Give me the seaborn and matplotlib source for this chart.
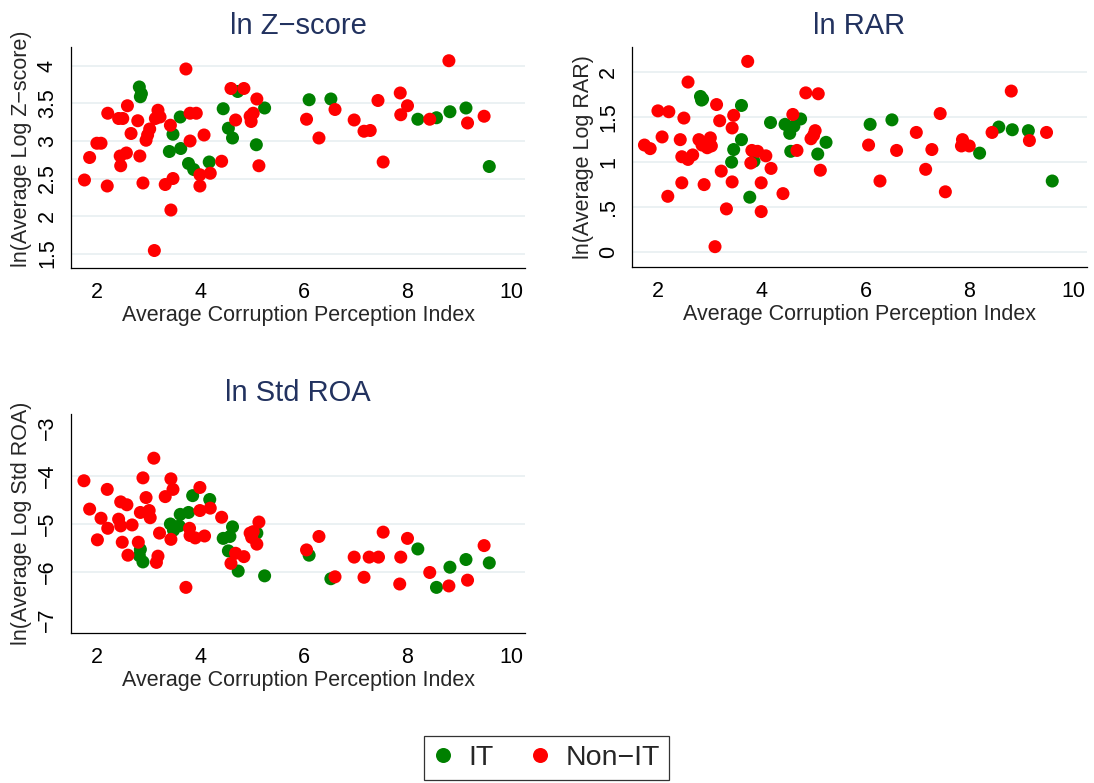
import numpy as np
import pandas as pd
import matplotlib
matplotlib.use("Agg")
import matplotlib.pyplot as plt
from matplotlib.lines import Line2D
import seaborn as sns

# ---------------- data ----------------
groups = ["IT", "Non\u2212IT"]
colors = {"IT": "#008000", "Non\u2212IT": "#ff0000"}

# Panel 1: ln Z-score
z_it_x = [2.82, 2.86, 2.84, 3.61, 3.47, 3.40, 3.62, 3.77, 3.87, 4.17, 4.44, 4.54,
          4.62, 4.72, 5.24, 5.08, 6.10, 6.52, 8.20, 8.56, 8.82, 9.13, 9.58]
z_it_y = [3.72, 3.63, 3.59, 3.32, 3.09, 2.86, 2.90, 2.70, 2.62, 2.72, 3.43, 3.17,
          3.04, 3.66, 3.44, 2.95, 3.55, 3.56, 3.29, 3.31, 3.39, 3.44, 2.66]
z_non_x = [3.72, 1.76, 1.86, 2.00, 2.08, 2.21, 2.20, 2.59, 2.42, 2.50, 2.79, 2.66,
           2.45, 2.57, 2.46, 2.83, 2.89, 3.02, 2.98, 2.95, 3.18, 3.13, 3.22, 3.42,
           3.32, 3.47, 3.43, 3.11, 3.80, 3.92, 3.80, 4.07, 3.99, 4.19, 3.99, 4.41,
           4.59, 4.84, 5.09, 4.68, 4.96, 5.02, 4.98, 5.13,
           6.05, 6.29, 6.60, 6.97, 7.16, 7.28, 7.43, 7.53, 7.86, 8.00, 7.87, 8.43,
           8.80, 9.16, 9.48]
z_non_y = [3.96, 2.48, 2.78, 2.97, 2.97, 3.37, 2.40, 3.47, 3.30, 3.30, 3.27, 3.10,
           2.80, 2.84, 2.67, 2.80, 2.44, 3.16, 3.08, 3.01, 3.41, 3.30, 3.32, 3.21,
           2.42, 2.50, 2.08, 1.54, 3.37, 3.37, 3.00, 3.08, 2.55, 2.57, 2.40, 2.73,
           3.70, 3.70, 3.56, 3.28, 3.33, 3.37, 3.26, 2.67,
           3.29, 3.04, 3.42, 3.28, 3.13, 3.14, 3.54, 2.72, 3.64, 3.47, 3.35, 3.29,
           4.07, 3.24, 3.33]

# Panel 2: ln RAR
r_it_x = [2.82, 2.86, 2.84, 3.61, 3.61, 3.46, 3.42, 3.85, 3.77, 4.17, 4.45, 4.54,
          4.62, 4.75, 4.54, 4.56, 5.24, 5.08, 6.09, 6.51, 8.20, 8.57, 8.83, 9.14, 9.60]
r_it_y = [1.73, 1.70, 1.69, 1.63, 1.25, 1.14, 1.00, 1.01, 0.61, 1.44, 1.42, 1.38,
          1.40, 1.48, 1.32, 1.12, 1.22, 1.09, 1.42, 1.47, 1.10, 1.39, 1.36, 1.35, 0.79]
r_non_x = [3.73, 2.58, 2.00, 2.21, 2.50, 3.13, 3.19, 3.46, 3.43, 2.08, 1.74, 1.85,
           2.43, 2.79, 2.85, 3.01, 2.95, 3.03, 2.46, 2.58, 2.67, 3.22, 3.43, 2.46,
           2.89, 2.19, 3.32, 3.10, 3.81, 3.92, 3.79, 4.08, 4.18, 3.99, 3.99, 4.41,
           4.60, 4.68, 4.85, 5.09, 5.03, 5.00, 4.95, 5.13,
           6.06, 6.28, 6.60, 6.98, 7.16, 7.28, 7.44, 7.54, 7.87, 7.85, 8.00, 8.44,
           8.81, 9.16, 9.49]
r_non_y = [2.12, 1.89, 1.57, 1.56, 1.49, 1.64, 1.46, 1.52, 1.38, 1.28, 1.19, 1.15,
           1.25, 1.25, 1.19, 1.27, 1.16, 1.18, 1.06, 1.03, 1.08, 0.90, 0.78, 0.77,
           0.75, 0.62, 0.48, 0.06, 1.13, 1.12, 0.99, 1.07, 0.93, 0.77, 0.45, 0.65,
           1.53, 1.13, 1.77, 1.76, 1.35, 1.30, 1.26, 0.91,
           1.19, 0.79, 1.13, 1.33, 0.92, 1.14, 1.54, 0.67, 1.25, 1.18, 1.18, 1.33,
           1.79, 1.24, 1.33]

# Panel 3: ln Std ROA
s_it_x = [3.85, 4.18, 3.61, 3.77, 3.42, 3.48, 3.59, 4.62, 4.44, 4.57, 4.54, 4.73,
          5.09, 5.24, 2.84, 2.82, 2.89, 6.10, 6.52, 8.20, 8.56, 8.82, 9.13, 9.58]
s_it_y = [-4.41, -4.49, -4.80, -4.76, -5.00, -5.13, -5.04, -5.06, -5.30, -5.26,
          -5.56, -5.98, -5.19, -6.08, -5.53, -5.66, -5.79, -5.65, -6.14, -5.52,
          -6.32, -5.90, -5.74, -5.81]
s_non_x = [3.10, 1.75, 2.89, 3.43, 3.47, 2.20, 2.95, 3.32, 3.99, 2.46, 2.58, 1.86,
           2.84, 3.01, 3.03, 3.99, 4.19, 2.08, 2.42, 2.46, 2.68, 2.21, 4.41, 3.21,
           3.43, 3.79, 3.80, 3.90, 4.08, 2.01, 2.49, 2.80, 2.60, 3.18, 3.15, 3.72,
           4.68, 4.84, 4.59, 5.13, 4.96, 5.02, 4.99, 5.09,
           6.05, 6.29, 6.60, 6.97, 7.16, 7.26, 7.44, 7.53, 7.87, 8.00, 7.85, 8.43,
           8.80, 9.16, 9.48]
s_non_y = [-3.63, -4.10, -4.04, -4.06, -4.28, -4.28, -4.45, -4.43, -4.24, -4.54,
           -4.60, -4.69, -4.76, -4.72, -4.87, -4.72, -4.67, -4.88, -4.90, -5.04,
           -5.02, -5.09, -4.86, -5.19, -5.32, -5.09, -5.24, -5.29, -5.25, -5.33,
           -5.38, -5.38, -5.65, -5.67, -5.80, -6.32, -5.61, -5.68, -5.82, -4.96,
           -5.19, -5.16, -5.28, -5.42,
           -5.54, -5.26, -6.10, -5.69, -6.11, -5.69, -5.69, -5.17, -5.69, -5.30,
           -6.25, -6.01, -6.29, -6.17, -5.45]

titles = ["ln Z\u2212score", "ln RAR", "ln Std ROA"]
ylabels = ["ln(Average Log Z\u2212score)", "ln(Average Log RAR)", "ln(Average Log Std ROA)"]
xlabel = "Average Corruption Perception Index"
xticks = [2, 4, 6, 8, 10]
yticks_z = [1.5, 2, 2.5, 3, 3.5, 4]
yticklabels_z = ["1.5", "2", "2.5", "3", "3.5", "4"]
yticks_r = [0, 0.5, 1, 1.5, 2]
yticklabels_r = ["0", ".5", "1", "1.5", "2"]
yticks_s = [-7, -6, -5, -4, -3]
yticklabels_s = ["\u22127", "\u22126", "\u22125", "\u22124", "\u22123"]


def make_df(itx, ity, nx, ny):
    return pd.DataFrame({
        "cpi": list(itx) + list(nx),
        "val": list(ity) + list(ny),
        "group": [groups[0]] * len(itx) + [groups[1]] * len(nx),
    })


# ---------------- styling ----------------
sns.set_style("white")
plt.rcParams["font.family"] = ["Liberation Sans", "DejaVu Sans"]
plt.rcParams["axes.unicode_minus"] = True

W, H = 1094, 783
fig = plt.figure(figsize=(W / 100, H / 100), dpi=100)
fig.patch.set_facecolor("white")

title_color = "#22325f"
grid_color = "#e9f0f2"
FS = 15.5


def axes_px(l, t, r, b):
    return fig.add_axes([l / W, (H - b) / H, (r - l) / W, (b - t) / H])


panels = [
    dict(rect=(71, 47, 525, 268), df=make_df(z_it_x, z_it_y, z_non_x, z_non_y),
         ylim=(1.307, 4.253), yt=yticks_z, ytl=yticklabels_z, grid=yticks_z,
         title=titles[0], ylabel=ylabels[0], ylab_y=0.54),
    dict(rect=(632, 47, 1087, 267), df=make_df(r_it_x, r_it_y, r_non_x, r_non_y),
         ylim=(-0.166, 2.28), yt=yticks_r, ytl=yticklabels_r, grid=yticks_r,
         title=titles[1], ylabel=ylabels[1], ylab_y=0.5),
    dict(rect=(71, 414, 525, 633), df=make_df(s_it_x, s_it_y, s_non_x, s_non_y),
         ylim=(-7.27, -2.71), yt=yticks_s, ytl=yticklabels_s, grid=[-6, -5, -4],
         title=titles[2], ylabel=ylabels[2], ylab_y=0.5),
]

for p in panels:
    l, t, r, b = p["rect"]
    ax = axes_px(l, t, r, b)
    ax.set_facecolor("white")
    for g in p["grid"]:
        ax.axhline(g, color=grid_color, lw=1.3, zorder=0)
    sns.scatterplot(data=p["df"], x="cpi", y="val", hue="group", palette=colors,
                    hue_order=groups, s=88, linewidth=0, legend=False, ax=ax,
                    zorder=3)
    ax.set_xlim(1.5, 10.27)
    ax.set_ylim(*p["ylim"])
    ax.set_xticks(xticks)
    ax.set_xticklabels([str(v) for v in xticks], fontsize=FS)
    ax.set_yticks(p["yt"])
    ax.set_yticklabels(p["ytl"], fontsize=FS, rotation=90, va="center")
    ax.tick_params(axis="both", direction="out", length=7.5 * 0.72, width=0.9,
                   color="black", labelcolor="black")
    ax.tick_params(axis="x", pad=4.5)
    ax.tick_params(axis="y", pad=4.0)
    for side in ["top", "right"]:
        ax.spines[side].set_visible(False)
    for side in ["left", "bottom"]:
        ax.spines[side].set_color("black")
        ax.spines[side].set_linewidth(0.9)
    ax.set_xlabel(xlabel, fontsize=FS, va="center")
    axh = b - t
    ax.xaxis.set_label_coords(0.5, -47.5 / axh)
    ax.set_ylabel(p["ylabel"], fontsize=FS, va="center")
    ax.yaxis.set_label_coords(-49.0 / (r - l), p["ylab_y"])
    ax.set_title(p["title"], fontsize=21, color=title_color,
                 y=1 + 21.0 / axh, va="center", pad=0)

handles = [Line2D([0], [0], marker="o", linestyle="none", markersize=10.8,
                  markerfacecolor=colors[g], markeredgewidth=0) for g in groups]
leg = fig.legend(handles, groups, loc="center", bbox_to_anchor=(546.5 / W, (H - 758) / H),
                 ncol=2, fontsize=20.5, frameon=True, fancybox=False,
                 borderpad=0.32, handlelength=0.69, handletextpad=0.53,
                 columnspacing=1.3, borderaxespad=0)
leg.get_frame().set_edgecolor("black")
leg.get_frame().set_linewidth(0.9)

fig.savefig("out.png", dpi=100, facecolor="white")
